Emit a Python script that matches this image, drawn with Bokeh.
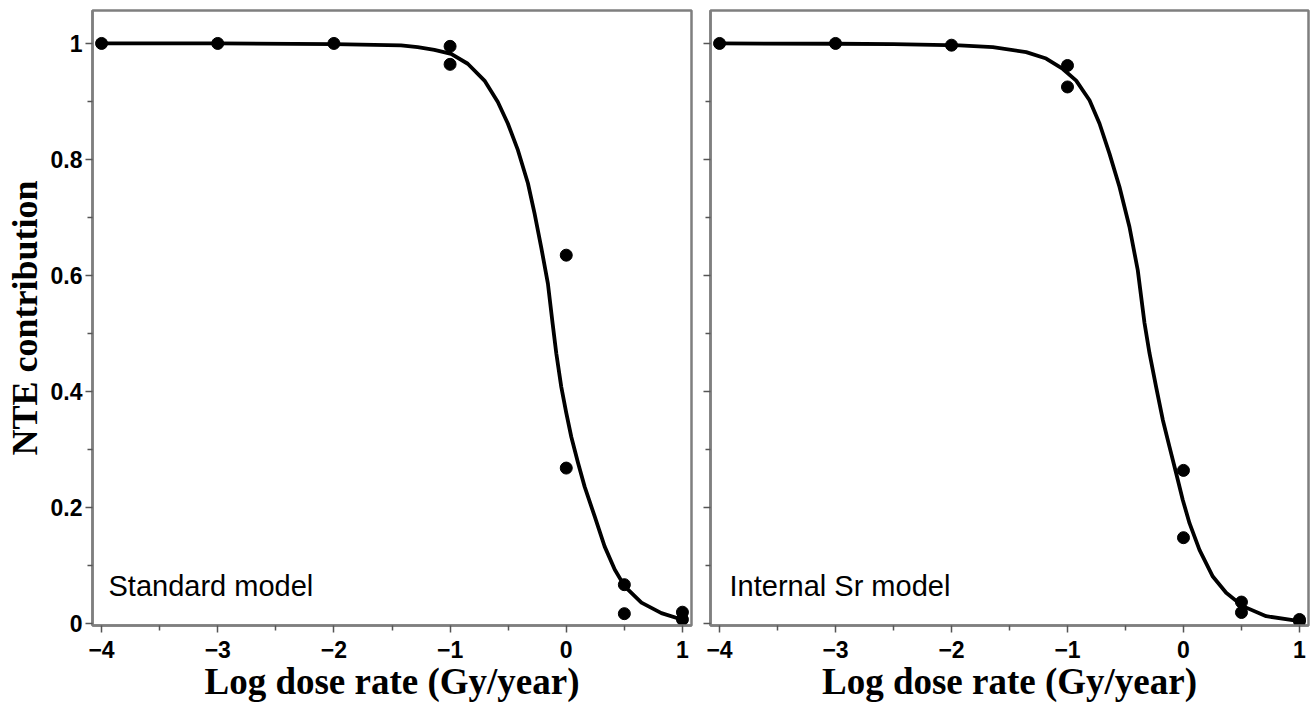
from bokeh.plotting import figure
from bokeh.models import FixedTicker, Label, Range1d
from bokeh.layouts import row
from bokeh.embed import file_html
from bokeh.resources import INLINE

# ---- data ----
x_ticks = [-4, -3, -2, -1, 0, 1]
x_tick_labels = ["\u22124", "\u22123", "\u22122", "\u22121", "0", "1"]
y_ticks = [0, 0.2, 0.4, 0.6, 0.8, 1.0]
y_tick_labels = ["0", "0.2", "0.4", "0.6", "0.8", "1"]

std_pts_x = [-4, -3, -2, -1, -1, 0, 0, 0.5, 0.5, 1, 1]
std_pts_y = [1.0, 1.0, 1.0, 0.995, 0.964, 0.635, 0.268, 0.067, 0.017, 0.0195, 0.007]

sr_pts_x = [-4, -3, -2, -1, -1, 0, 0, 0.5, 0.5, 1, 1]
sr_pts_y = [1.0, 1.0, 0.997, 0.962, 0.925, 0.264, 0.148, 0.037, 0.019, 0.007, 0.004]

std_curve_x = [-4, -3, -2, -1.422, -1.279, -1.135, -0.991, -0.848, -0.704, -0.589,
               -0.503, -0.416, -0.330, -0.273, -0.216, -0.158, -0.118, -0.086,
               -0.043, 0.0, 0.043, 0.101, 0.158, 0.244, 0.330, 0.417, 0.503,
               0.647, 0.819, 1.0]
std_curve_y = [1.0, 1.0, 0.999, 0.9966, 0.9937, 0.989, 0.982, 0.965, 0.936, 0.899,
               0.862, 0.816, 0.759, 0.707, 0.649, 0.586, 0.518, 0.466,
               0.408, 0.363, 0.322, 0.277, 0.236, 0.185, 0.133, 0.093, 0.064,
               0.036, 0.018, 0.0065]

sr_curve_x = [-4, -3, -2.5, -1.931, -1.644, -1.356, -1.184, -1.040, -0.925, -0.810,
              -0.724, -0.638, -0.552, -0.466, -0.394, -0.336, -0.293, -0.236,
              -0.178, -0.121, -0.063, -0.006, 0.052, 0.138, 0.253, 0.368, 0.511,
              0.713, 1.0]
sr_curve_y = [1.0, 0.9995, 0.999, 0.9966, 0.9937, 0.985, 0.974, 0.956, 0.936, 0.902,
              0.862, 0.810, 0.753, 0.684, 0.609, 0.518, 0.466, 0.408,
              0.351, 0.305, 0.259, 0.213, 0.173, 0.127, 0.081, 0.053, 0.030,
              0.0126, 0.004]

GRAY = "#7f7f7f"
TICK = "#555555"


def make_panel(cx, cy, px, py, label_text, label_x, show_ylabels, width, bl, br):
    p = figure(width=width, height=704, output_backend="svg", toolbar_location=None,
               x_range=Range1d(-4.078, 1.078), y_range=Range1d(-0.0034, 1.0568),
               min_border_left=bl, min_border_right=br, min_border_top=10,
               min_border_bottom=78)
    p.grid.visible = False
    p.background_fill_color = "white"
    p.border_fill_color = "white"
    p.outline_line_color = GRAY
    p.outline_line_width = 2.5

    p.line(cx, cy, line_color="black", line_width=3.8, line_join="round")
    p.scatter(px, py, size=12, color="black")

    p.axis.axis_line_color = GRAY
    p.axis.axis_line_width = 2.5
    p.axis.major_tick_line_color = TICK
    p.axis.minor_tick_line_color = TICK
    p.axis.major_tick_line_width = 1.5
    p.axis.minor_tick_line_width = 1.5
    p.axis.major_tick_in = 0
    p.axis.major_tick_out = 7
    p.axis.minor_tick_in = 0
    p.axis.minor_tick_out = 5
    p.axis.major_label_text_font = "Liberation Sans"
    p.axis.major_label_text_font_style = "bold"
    p.axis.major_label_text_font_size = "23px"
    p.axis.major_label_text_color = "black"
    p.axis.axis_label_text_font = "Liberation Serif"
    p.axis.axis_label_text_font_style = "bold"
    p.axis.axis_label_text_color = "black"
    p.xaxis.axis_label_text_font_size = "37px"
    p.yaxis.axis_label_text_font_size = "36px"

    p.xaxis.ticker = FixedTicker(ticks=x_ticks, minor_ticks=[-3.5, -2.5, -1.5, -0.5, 0.5])
    p.xaxis.major_label_overrides = {t: l for t, l in zip(x_ticks, x_tick_labels)}
    p.xaxis.axis_label = "Log dose rate (Gy/year)"
    p.xaxis.major_label_standoff = 8
    p.xaxis.axis_label_standoff = 0

    p.yaxis.ticker = FixedTicker(ticks=y_ticks, minor_ticks=[0.1, 0.3, 0.5, 0.7, 0.9])
    if show_ylabels:
        p.yaxis.major_label_overrides = {t: l for t, l in zip(y_ticks, y_tick_labels)}
        p.yaxis.axis_label = "NTE contribution"
        p.yaxis.major_label_standoff = 3
        p.yaxis.axis_label_standoff = 3
    else:
        p.yaxis.major_label_overrides = {t: "" for t in y_ticks}
        p.yaxis.major_label_standoff = 0

    p.add_layout(Label(x=label_x, y=0.064, text=label_text, text_font="Liberation Sans",
                       text_font_size="29px", text_color="black",
                       text_baseline="alphabetic"))
    return p


p1 = make_panel(std_curve_x, std_curve_y, std_pts_x, std_pts_y, "Standard model",
                -3.94, True, 701, 92, 10)
p2 = make_panel(sr_curve_x, sr_curve_y, sr_pts_x, sr_pts_y, "Internal Sr model",
                -3.914, False, 613, 9, 6)

layout = row(p1, p2)
open("out.html", "w").write(file_html(layout, INLINE))
